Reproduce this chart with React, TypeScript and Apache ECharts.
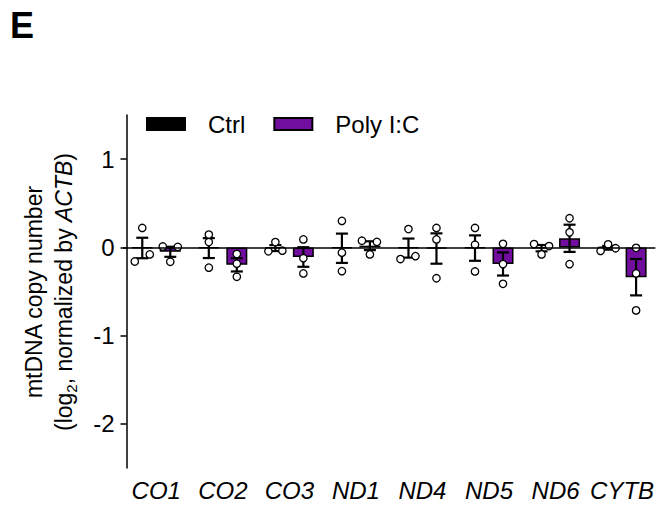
import React, { useEffect, useRef } from "react";
import * as echarts from "echarts";

// ---- data ----
const categories = ["CO1", "CO2", "CO3", "ND1", "ND4", "ND5", "ND6", "CYTB"];
const seriesNames = ["Ctrl", "Poly I:C"];
const ctrlMean = [-0.007, -0.008, -0.008, -0.01, -0.008, -0.008, -0.009, -0.005];
const ctrlSem = [0.116, 0.113, 0.034, 0.166, 0.108, 0.144, 0.036, 0.021];
const polyMean = [-0.05, -0.198, -0.109, 0.019, -0.013, -0.188, 0.103, -0.338];
const polySem = [0.057, 0.075, 0.111, 0.05, 0.172, 0.131, 0.154, 0.206];
const ctrlPoints = [
  [-0.16, 0.22, -0.08],
  [0.145, 0.06, -0.23],
  [-0.045, 0.06, -0.038],
  [0.3, -0.06, -0.27],
  [-0.132, 0.207, -0.1],
  [0.22, 0.03, -0.273],
  [0.038, -0.08, 0.015],
  [-0.04, 0.034, -0.01],
];
const polyPoints = [
  [0.01, -0.163, 0.005],
  [-0.075, -0.185, -0.333],
  [0.09, -0.123, -0.295],
  [0.075, -0.08, 0.062],
  [0.22, 0.09, -0.35],
  [0.04, -0.19, -0.413],
  [0.33, 0.17, -0.19],
  [-0.005, -0.295, -0.714],
];
const yTicks = [-2, -1, 0, 1];

// ---- layout (horizontal spread of the dots, px) ----
const ctrlJitter = [
  [-7.5, 0, 7.5], [0, 0, 0], [-7, 0, 7], [0, 0, 0],
  [-8, 0, 7], [0, 0, 0], [-7.5, 0, 7.5], [-7.5, 0, 7.5],
];
const polyJitter = [
  [-7.5, 0, 7.5], [0, 0, 0], [0, 0, 0], [-8, 0, 7],
  [0, 0, 0], [0, 0, 0], [0, 0, 0], [0, 0, 0],
];

const PURPLE = "#720e9e";
const FONT = "Liberation Sans, Arial, sans-serif";
const BAR_W = 21;
const BAR_GAP = 7;
const HALF = (BAR_W + BAR_GAP) / 2;
const CAP = 6;

export default function App() {
  const ref = useRef<HTMLDivElement>(null);
  useEffect(() => {
    if (!ref.current) return;
    const chart = echarts.init(ref.current, undefined, { renderer: "svg" });

    const errData: number[][] = [];
    categories.forEach((_, i) => {
      errData.push([i, ctrlMean[i], ctrlSem[i], 0]);
      errData.push([i, polyMean[i], polySem[i], 1]);
    });
    const ptData: number[][] = [];
    categories.forEach((_, i) => {
      ctrlPoints[i].forEach((v, k) => ptData.push([i, v, 0, ctrlJitter[i][k]]));
      polyPoints[i].forEach((v, k) => ptData.push([i, v, 1, polyJitter[i][k]]));
    });

    const option: any = {
      animation: false,
      textStyle: { fontFamily: FONT },
      grid: { left: 123, right: 0, top: 115, bottom: 41 },
      legend: {
        data: seriesNames,
        left: 146,
        top: 112,
        padding: 0,
        icon: "rect",
        itemWidth: 38,
        itemHeight: 12,
        itemGap: 28,
        textStyle: { fontSize: 24, color: "#000", fontFamily: FONT, padding: [0, 0, 0, 18] },
      },
      xAxis: {
        type: "category",
        data: categories,
        boundaryGap: true,
        axisLine: { show: false },
        axisTick: { show: false },
        axisLabel: {
          interval: 0,
          fontSize: 24,
          fontStyle: "italic",
          color: "#000",
          fontFamily: FONT,
          margin: 10,
        },
      },
      yAxis: {
        type: "value",
        min: -2.5,
        max: 1.5,
        offset: -3.5,
        splitLine: { show: false },
        axisLine: { show: true, lineStyle: { color: "#000", width: 1.5 } },
        axisTick: { show: true, length: 6, lineStyle: { color: "#000", width: 1.5 }, customValues: yTicks },
        axisLabel: { fontSize: 24, color: "#000", fontFamily: FONT, margin: 12, customValues: yTicks },
      },
      graphic: [
        {
          type: "text",
          left: 10,
          top: 7,
          style: { text: "E", fontSize: 36, fontWeight: "bold", fill: "#000", fontFamily: FONT },
        },
        {
          type: "text",
          x: 49,
          y: 292,
          rotation: Math.PI / 2,
          style: {
            text: "{a|mtDNA copy number}\n{a|(log}{s|2}{a|, normalized by }{i|ACTB}{a|)}",
            align: "center",
            verticalAlign: "middle",
            fill: "#000",
            rich: {
              a: { fontSize: 23, lineHeight: 30, fontFamily: FONT, fill: "#000" },
              s: { fontSize: 15, lineHeight: 15, verticalAlign: "bottom", fontFamily: FONT, fill: "#000" },
              i: { fontSize: 23, lineHeight: 30, fontStyle: "italic", fontFamily: FONT, fill: "#000" },
            },
          },
        },
      ],
      series: [
        {
          name: seriesNames[0],
          type: "bar",
          data: ctrlMean,
          barWidth: BAR_W,
          barGap: (BAR_GAP / BAR_W) * 100 + "%",
          itemStyle: { color: "#000", borderColor: "#000", borderWidth: 1.5 },
          markLine: {
            silent: true,
            symbol: ["none", "none"],
            label: { show: false },
            lineStyle: { color: "#000", width: 1.5, type: "solid" },
            data: [{ yAxis: 0 }],
          },
          z: 2,
        },
        {
          name: seriesNames[1],
          type: "bar",
          data: polyMean,
          barWidth: BAR_W,
          itemStyle: { color: PURPLE, borderColor: "#000", borderWidth: 1.5 },
          z: 2,
        },
        {
          type: "custom",
          data: errData,
          encode: { x: 0, y: 1 },
          z: 3,
          renderItem: (params: any, api: any) => {
            const cat = api.value(0);
            const mean = api.value(1);
            const sem = api.value(2);
            const g = api.value(3);
            const off = g === 0 ? -HALF : HALF;
            const top = api.coord([cat, mean + sem]);
            const bot = api.coord([cat, mean - sem]);
            const x = top[0] + off;
            const st = { stroke: "#000", lineWidth: 2.2 };
            return {
              type: "group",
              children: [
                { type: "line", shape: { x1: x, y1: top[1], x2: x, y2: bot[1] }, style: st },
                { type: "line", shape: { x1: x - CAP, y1: top[1], x2: x + CAP, y2: top[1] }, style: st },
                { type: "line", shape: { x1: x - CAP, y1: bot[1], x2: x + CAP, y2: bot[1] }, style: st },
              ],
            };
          },
        },
        {
          type: "custom",
          data: ptData,
          encode: { x: 0, y: 1 },
          z: 4,
          renderItem: (params: any, api: any) => {
            const cat = api.value(0);
            const v = api.value(1);
            const g = api.value(2);
            const j = api.value(3);
            const p = api.coord([cat, v]);
            const off = g === 0 ? -HALF : HALF;
            return {
              type: "circle",
              shape: { cx: p[0] + off + j, cy: p[1], r: 3.7 },
              style: { fill: "#fff", stroke: "#000", lineWidth: 1.3 },
            };
          },
        },
      ],
    };
    chart.setOption(option);
    return () => chart.dispose();
  }, []);
  return (
    <div
      ref={ref}
      style={{ position: "absolute", left: 0, top: 0, width: 657, height: 509, background: "#fff" }}
    />
  );
}
